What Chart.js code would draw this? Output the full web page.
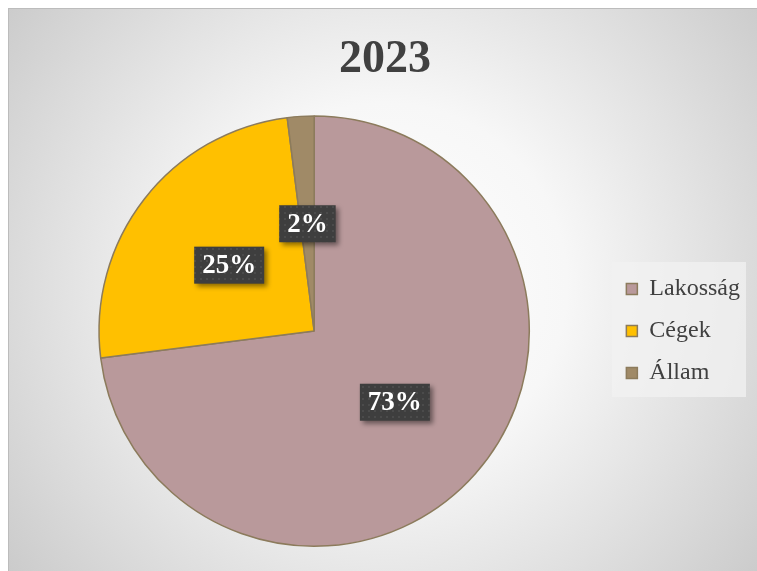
<!DOCTYPE html>
<html>
<head>
<meta charset="utf-8">
<script src="https://cdn.jsdelivr.net/npm/chart.js@4.4.1/dist/chart.umd.min.js"></script>
<style>
    html, body { margin: 0; padding: 0; background: #fff; overflow: hidden; }
    #chart { display: block; }
</style>
</head>
<body>
<canvas id="chart" width="757" height="571"></canvas>
<script>
const chartTitle = "2023";
const categories = ["Lakosság", "Cégek", "Állam"];
const shares = [73, 25, 2];
const sliceColors = ["#B9999B", "#FFC000", "#A08A67"];

// dotted dark texture used behind the percent labels
function makeLabelPattern(ctx) {
    const c = document.createElement("canvas");
    c.width = 6;
    c.height = 6;
    const p = c.getContext("2d");
    p.fillStyle = "#3e3e3e";
    p.fillRect(0, 0, 6, 6);
    p.fillStyle = "#4b4b4b";
    p.fillRect(2, 2, 2, 2);
    return ctx.createPattern(c, "repeat");
}

const backgroundPlugin = {
    id: "panelBackground",
    beforeDraw(chart) {
        const ctx = chart.ctx;
        const w = chart.width, h = chart.height;
        ctx.save();
        ctx.fillStyle = "#ffffff";
        ctx.fillRect(0, 0, w, h);
        const g = ctx.createRadialGradient(385, 285, 0, 385, 285, 520);
        g.addColorStop(0, "#ffffff");
        g.addColorStop(0.35, "#f7f7f7");
        g.addColorStop(1, "#c4c4c4");
        ctx.fillStyle = g;
        ctx.fillRect(8, 8, w, h);
        ctx.strokeStyle = "#bcbcbc";
        ctx.lineWidth = 1;
        ctx.strokeRect(8.5, 8.5, w + 10, h + 10);

        // legend panel
        ctx.fillStyle = "rgba(242,242,242,0.75)";
        ctx.fillRect(612, 262, 134, 135);
        ctx.restore();
    }
};

const percentLabelPlugin = {
    id: "percentLabels",
    afterDatasetsDraw(chart) {
        const ctx = chart.ctx;
        const meta = chart.getDatasetMeta(0);
        const pattern = makeLabelPattern(ctx);
        ctx.save();
        ctx.font = "bold 27px 'Liberation Serif'";
        ctx.textAlign = "center";
        ctx.textBaseline = "middle";
        meta.data.forEach((arc, i) => {
            const pos = arc.tooltipPosition();
            const text = shares[i] + "%";
            const tw = ctx.measureText(text).width;
            const bw = tw + 16, bh = 37;
            const x = pos.x - bw / 2, y = pos.y - bh / 2;
            ctx.save();
            ctx.shadowColor = "rgba(0,0,0,0.45)";
            ctx.shadowBlur = 5;
            ctx.shadowOffsetX = 3;
            ctx.shadowOffsetY = 3;
            ctx.fillStyle = pattern;
            ctx.fillRect(x, y, bw, bh);
            ctx.restore();
            ctx.fillStyle = "#ffffff";
            ctx.fillText(text, pos.x, pos.y + 1);
        });
        ctx.restore();
    }
};

new Chart(document.getElementById("chart"), {
    type: "pie",
    data: {
        labels: categories,
        datasets: [{
            data: shares,
            backgroundColor: sliceColors,
            borderColor: "#8C7B5C",
            borderWidth: 1.5
        }]
    },
    options: {
        responsive: false,
        devicePixelRatio: 1,
        animation: false,
        layout: {
            padding: { left: 20, right: 7, top: 0, bottom: 24 }
        },
        plugins: {
            title: {
                display: true,
                text: chartTitle,
                color: "#404040",
                font: { family: "'Liberation Serif'", size: 46, weight: "bold" },
                padding: { top: 33, bottom: 27 }
            },
            legend: {
                position: "right",
                fullSize: false,
                labels: {
                    color: "#404040",
                    font: { family: "'Liberation Serif'", size: 24 },
                    boxWidth: 11,
                    boxHeight: 11,
                    padding: 18
                }
            },
            tooltip: { enabled: false }
        }
    },
    plugins: [backgroundPlugin, percentLabelPlugin]
});
</script>
</body>
</html>
